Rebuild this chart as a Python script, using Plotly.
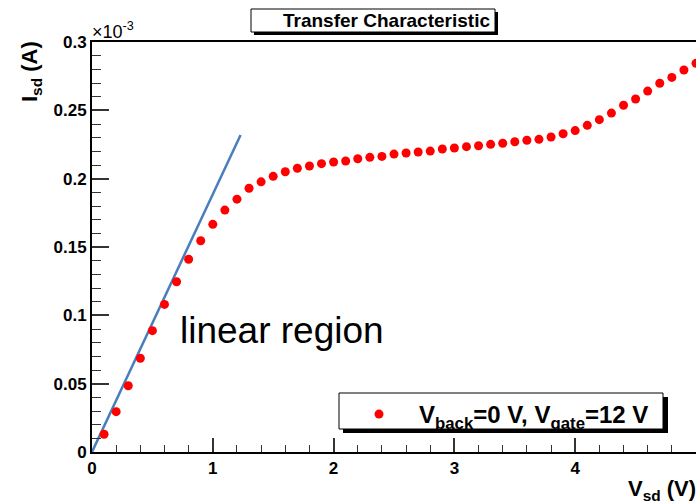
import plotly.graph_objects as go

# ---- data ----
vsd = [0.1, 0.2, 0.3, 0.4, 0.5, 0.6, 0.7, 0.8, 0.9, 1.0,
       1.1, 1.2, 1.3, 1.4, 1.5, 1.6, 1.7, 1.8, 1.9, 2.0,
       2.1, 2.2, 2.3, 2.4, 2.5, 2.6, 2.7, 2.8, 2.9, 3.0,
       3.1, 3.2, 3.3, 3.4, 3.5, 3.6, 3.7, 3.8, 3.9, 4.0,
       4.1, 4.2, 4.3, 4.4, 4.5, 4.6, 4.7, 4.8, 4.9, 5.0]
# current in units of 1e-3 A
isd = [0.013, 0.0295, 0.0485, 0.0686, 0.0888, 0.108, 0.1246, 0.141, 0.1546, 0.1666,
       0.177, 0.185, 0.193, 0.1977, 0.2017, 0.2051, 0.2076, 0.2093, 0.2110, 0.2122,
       0.2129, 0.2146, 0.2156, 0.2163, 0.2180, 0.2188, 0.2195, 0.2202, 0.2217, 0.2224,
       0.2234, 0.2241, 0.2251, 0.2259, 0.2270, 0.2281, 0.2288, 0.2305, 0.2329, 0.2352,
       0.239, 0.2432, 0.248, 0.2537, 0.2583, 0.2641, 0.2698, 0.2741, 0.2795, 0.2844]
fit_x = [0.0, 1.23]
fit_y = [0.0, 0.232]

x_tickvals = [0, 1, 2, 3, 4, 5]
x_ticktext = ["0", "1", "2", "3", "4", "5"]
y_tickvals = [0, 0.05, 0.1, 0.15, 0.2, 0.25, 0.3]
y_ticktext = ["0", "0.05", "0.1", "0.15", "0.2", "0.25", "0.3"]

series_name = "V<sub>back</sub>=0 V, V<sub>gate</sub>=12 V"
title_text = "Transfer Characteristic"

# ---- layout geometry (pixels) ----
W, H = 696, 503
L, R, T, B = 92, 0, 42, 51
PW = W - L - R
PH = H - T - B


def px(x):
    return (x - L) / PW


def py(y):
    return (H - B - y) / PH


FONT = "Liberation Sans, Arial, sans-serif"

fig = go.Figure()
fig.add_trace(go.Scatter(
    x=fit_x, y=fit_y, mode="lines",
    line=dict(color="#4a7ebb", width=2.5),
    showlegend=False, hoverinfo="skip"))
fig.add_trace(go.Scatter(
    x=vsd, y=isd, mode="markers", name=series_name,
    marker=dict(color="#ff0000", size=9, symbol="circle"),
    showlegend=True))

shapes = [
    # title box shadow and box
    dict(type="rect", xref="paper", yref="paper",
         x0=px(254), x1=px(498), y0=py(35), y1=py(12),
         fillcolor="black", line=dict(width=0), layer="above"),
    dict(type="rect", xref="paper", yref="paper",
         x0=px(251), x1=px(495), y0=py(32), y1=py(9),
         fillcolor="white", line=dict(color="black", width=1), layer="above"),
    # legend box shadow and box
    dict(type="rect", xref="paper", yref="paper",
         x0=px(343), x1=px(668), y0=py(433), y1=py(397),
         fillcolor="black", line=dict(width=0), layer="above"),
    dict(type="rect", xref="paper", yref="paper",
         x0=px(339), x1=px(663), y0=py(429), y1=py(393),
         fillcolor="white", line=dict(color="black", width=1), layer="above"),
]

annotations = [
    dict(text=title_text, xref="paper", yref="paper", x=px(386), y=py(20.5),
         xanchor="center", yanchor="middle", showarrow=False,
         font=dict(family=FONT, size=19, color="black", weight="bold")),
    dict(text="I<sub>sd</sub> (A)", xref="paper", yref="paper", x=px(31), y=py(72),
         xanchor="center", yanchor="middle", textangle=-90, showarrow=False,
         font=dict(family=FONT, size=22, color="black", weight="bold")),
    dict(text="V<sub>sd</sub> (V)", xref="paper", yref="paper", x=px(698), y=py(474),
         xanchor="right", yanchor="top", showarrow=False,
         font=dict(family=FONT, size=22, color="black", weight="bold")),
    dict(text="×10<sup>-3</sup>", xref="paper", yref="paper", x=px(90), y=py(31),
         xanchor="left", yanchor="middle", showarrow=False,
         font=dict(family=FONT, size=18, color="black")),
    dict(text="linear region", xref="paper", yref="paper", x=px(178), y=py(330),
         xanchor="left", yanchor="middle", showarrow=False,
         font=dict(family=FONT, size=37, color="black")),
]

fig.update_layout(
    width=W, height=H,
    margin=dict(l=L, r=R, t=T, b=B, pad=0),
    paper_bgcolor="white", plot_bgcolor="white",
    font=dict(family=FONT, color="black"),
    shapes=shapes, annotations=annotations,
    showlegend=True,
    legend=dict(x=px(339), y=py(392), xanchor="left", yanchor="top",
                bgcolor="rgba(0,0,0,0)", borderwidth=0,
                itemwidth=70,
                font=dict(family=FONT, size=24, color="black", weight="bold")),
    xaxis=dict(range=[0, 5], showgrid=False, zeroline=False,
               showline=True, linecolor="black", linewidth=2, mirror=True,
               ticks="inside", ticklen=14, tickwidth=1.5, tickcolor="#333",
               tickvals=x_tickvals, ticktext=x_ticktext,
               tickfont=dict(family=FONT, size=17, color="black", weight="bold"),
               minor=dict(dtick=0.2, ticks="inside", ticklen=7, tickwidth=1.2, tickcolor="#333")),
    yaxis=dict(range=[0, 0.3], showgrid=False, zeroline=False,
               showline=True, linecolor="black", linewidth=2, mirror=False,
               ticks="inside", ticklen=17, tickwidth=1.5, tickcolor="#333",
               tickvals=y_tickvals, ticktext=y_ticktext,
               tickfont=dict(family=FONT, size=17, color="black", weight="bold"),
               minor=dict(dtick=0.01, ticks="inside", ticklen=9, tickwidth=1.2, tickcolor="#333")),
)

fig.write_html("out.html")
